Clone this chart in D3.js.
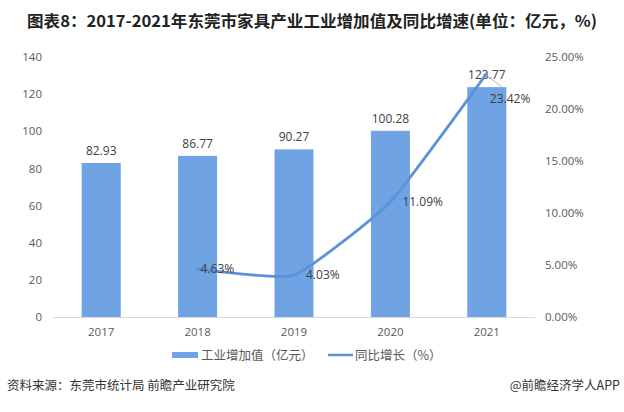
<!DOCTYPE html>
<html>
<head>
<meta charset="utf-8">
<script src="https://cdn.jsdelivr.net/npm/d3@7"></script>
<style>
  body { margin: 0; background: #fff; }
  svg { display: block; font-family: "Noto Sans CJK SC", "Noto Sans", sans-serif; }
</style>
</head>
<body>
<div id="chart"></div>
<script>
// chart data
const years = ["2017", "2018", "2019", "2020", "2021"];
const addedValue = [82.93, 86.77, 90.27, 100.28, 123.77];
const growth = [null, 4.63, 4.03, 11.09, 23.42];
const leftTicks = [0, 20, 40, 60, 80, 100, 120, 140];
const rightTicks = [0, 5, 10, 15, 20, 25];

const W = 624, H = 412;
const margin = {top: 57, right: 89, bottom: 95, left: 53};
const width = W - margin.left - margin.right,
      height = H - margin.top - margin.bottom;

const svg = d3.select("#chart")
  .append("svg")
    .attr("width", W)
    .attr("height", H);

// title
svg.append("text")
  .attr("x", 312)
  .attr("y", 27)
  .attr("text-anchor", "middle")
  .attr("font-size", "16px")
  .attr("font-weight", "bold")
  .attr("fill", "#222")
  .attr("textLength", 570)
  .attr("lengthAdjust", "spacingAndGlyphs")
  .text("图表8：2017-2021年东莞市家具产业工业增加值及同比增速(单位：亿元，%)");

const g = svg.append("g")
  .attr("transform", "translate(" + margin.left + "," + margin.top + ")");

// scales
const x = d3.scaleBand()
  .domain(years)
  .range([0, width])
  .paddingInner(0.595)
  .paddingOuter(0.2975);

const y = d3.scaleLinear()
  .domain([0, 140])
  .range([height, 0]);

const y2 = d3.scaleLinear()
  .domain([0, 25])
  .range([height, 0]);

// left axis
const yAxis = g.append("g")
  .call(d3.axisLeft(y).tickValues(leftTicks).tickSize(0).tickPadding(11));
yAxis.select(".domain").remove();
yAxis.selectAll("text")
  .attr("font-size", "11.5px")
  .attr("fill", "#595959")
  .attr("font-family", "'Open Sans', 'Noto Sans', sans-serif");

// right axis
const yAxis2 = g.append("g")
  .attr("transform", "translate(" + width + ",0)")
  .call(d3.axisRight(y2).tickValues(rightTicks).tickSize(0).tickPadding(10)
    .tickFormat(function (d) { return d.toFixed(2) + "%"; }));
yAxis2.select(".domain").remove();
yAxis2.selectAll("text")
  .attr("font-size", "11.5px")
  .attr("fill", "#595959")
  .attr("font-family", "'Open Sans', 'Noto Sans', sans-serif");

// x axis
const xAxis = g.append("g")
  .attr("transform", "translate(0," + height + ")")
  .call(d3.axisBottom(x).tickSize(0).tickPadding(11));
xAxis.select(".domain").attr("stroke", "#d9d9d9");
xAxis.selectAll("text")
  .attr("font-size", "11.5px")
  .attr("fill", "#595959")
  .attr("font-family", "'Open Sans', 'Noto Sans', sans-serif");

// bars
g.append("g")
  .selectAll("rect")
  .data(years)
  .enter()
  .append("rect")
    .attr("x", function (d) { return x(d); })
    .attr("y", function (d, i) { return y(addedValue[i]); })
    .attr("width", x.bandwidth())
    .attr("height", function (d, i) { return height - y(addedValue[i]); })
    .attr("fill", "#6fa3e4");

// bar labels
g.append("g")
  .selectAll("text")
  .data(years)
  .enter()
  .append("text")
    .attr("x", function (d) { return x(d) + x.bandwidth() / 2; })
    .attr("y", function (d, i) { return y(addedValue[i]) - 8; })
    .attr("text-anchor", "middle")
    .attr("font-size", "12px")
    .attr("fill", "#404040")
    .attr("font-family", "'Open Sans', 'Noto Sans', sans-serif")
    .text(function (d, i) { return addedValue[i].toFixed(2); });

// growth line
const pts = years.map(function (d, i) { return {year: d, v: growth[i]}; })
  .filter(function (d) { return d.v !== null; });

const line = d3.line()
  .x(function (d) { return x(d.year) + x.bandwidth() / 2; })
  .y(function (d) { return y2(d.v); })
  .curve(d3.curveCardinal.tension(0.55));

g.append("path")
  .datum(pts)
  .attr("d", line)
  .attr("fill", "none")
  .attr("stroke", "#5b93d6")
  .attr("stroke-width", 2.8)
  .attr("stroke-linecap", "round");

// growth labels (last one is pushed down-right with a leader line)
const lblOffset = [[3, 4], [12, 4], [12, 4], [3, 30]];
pts.forEach(function (d, i) {
  const px = x(d.year) + x.bandwidth() / 2, py = y2(d.v);
  if (i === pts.length - 1) {
    g.append("line")
      .attr("x1", px).attr("y1", py + 2)
      .attr("x2", px + 17).attr("y2", py + 15)
      .attr("stroke", "#a6a6a6")
      .attr("stroke-width", 0.8);
  }
  g.append("text")
    .attr("x", px + lblOffset[i][0])
    .attr("y", py + lblOffset[i][1])
    .attr("font-size", "12px")
    .attr("fill", "#404040")
    .attr("font-family", "'Open Sans', 'Noto Sans', sans-serif")
    .text(d.v.toFixed(2) + "%");
});

// legend
const leg = svg.append("g").attr("transform", "translate(0,355)");
leg.append("rect")
  .attr("x", 172).attr("y", -3)
  .attr("width", 26).attr("height", 6)
  .attr("fill", "#6fa3e4");
leg.append("text")
  .attr("x", 201).attr("y", 4.5)
  .attr("font-size", "12.5px")
  .attr("fill", "#595959")
  .text("工业增加值（亿元）");
leg.append("line")
  .attr("x1", 328).attr("x2", 353)
  .attr("stroke", "#5b93d6")
  .attr("stroke-width", 2.5);
leg.append("text")
  .attr("x", 355).attr("y", 4.5)
  .attr("font-size", "12.5px")
  .attr("fill", "#595959")
  .text("同比增长（%）");

// source
svg.append("text")
  .attr("x", 7).attr("y", 390)
  .attr("font-size", "12.5px")
  .attr("fill", "#333")
  .text("资料来源：东莞市统计局 前瞻产业研究院");
svg.append("text")
  .attr("x", 620).attr("y", 390)
  .attr("text-anchor", "end")
  .attr("font-size", "12.5px")
  .attr("fill", "#333")
  .text("@前瞻经济学人APP");
</script>
</body>
</html>
